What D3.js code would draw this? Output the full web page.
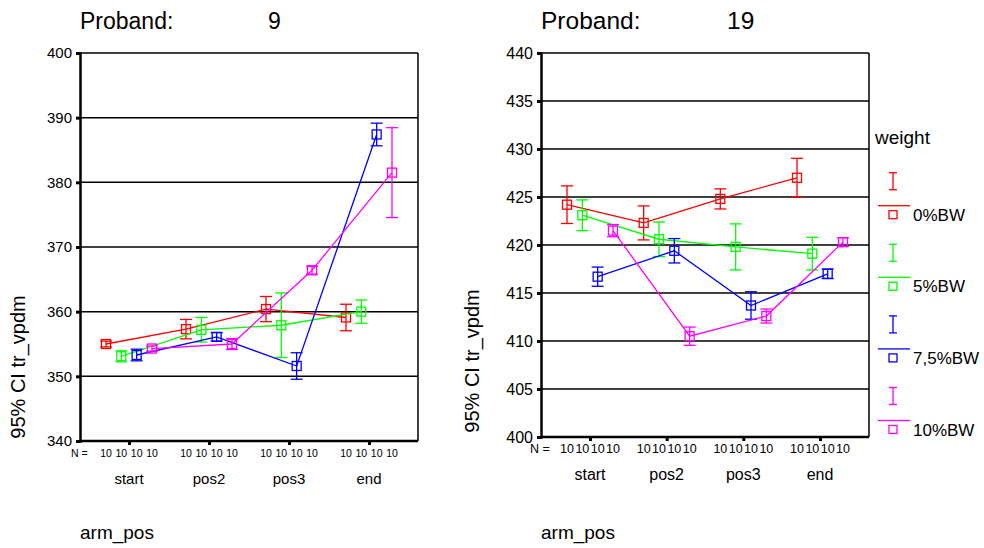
<!DOCTYPE html>
<html>
<head>
<meta charset="utf-8">
<script src="https://cdn.jsdelivr.net/npm/d3@7/dist/d3.min.js"></script>
<style>
  body { margin: 0; background: #fff; }
  svg { display: block; font-family: "Liberation Sans", Arial, sans-serif; }
</style>
</head>
<body>
<div id="plot"></div>
<script>
// Categories and groups
const categories = ["start", "pos2", "pos3", "end"];
const weights = ["0%BW", "5%BW", "7,5%BW", "10%BW"];
const colors = ["#ff0000", "#00ff00", "#0000ff", "#ff00ff"];
const nCounts = [10, 10, 10, 10];

// Proband 9: means and 95% CI half widths (one row per weight)
const p9Means = [
  [355.0, 357.3, 360.4, 359.1],
  [353.1, 357.2, 357.9, 360.0],
  [353.3, 356.1, 351.6, 387.4],
  [354.3, 355.0, 366.4, 381.5]
];
const p9CI = [
  [0.45, 1.5, 1.95, 2.05],
  [0.85, 1.9, 5.0, 1.8],
  [0.9, 0.65, 2.05, 1.75],
  [0.4, 0.85, 0.6, 6.95]
];
const p9Ticks = [340, 350, 360, 370, 380, 390, 400];

// Proband 19
const p19Means = [
  [424.2, 422.3, 424.8, 427.0],
  [423.1, 420.6, 419.8, 419.1],
  [416.7, 419.4, 413.7, 417.0],
  [421.5, 410.5, 412.6, 420.3]
];
const p19CI = [
  [1.96, 1.77, 1.05, 2.03],
  [1.6, 1.8, 2.4, 1.7],
  [1.0, 1.27, 1.43, 0.5],
  [0.63, 0.95, 0.73, 0.45]
];
const p19Ticks = [400, 405, 410, 415, 420, 425, 430, 435, 440];

const svg = d3.select("#plot").append("svg")
  .attr("width", 984)
  .attr("height", 548);

function drawPanel(cfg) {
  const g = svg.append("g");
  const { left, right, top, bottom } = cfg;

  const y = d3.scaleLinear()
    .domain([cfg.ticks[0], cfg.ticks[cfg.ticks.length - 1]])
    .range([bottom, top]);
  const x = d3.scalePoint().domain(categories).range([left + 49, right - 49]);
  const off = d3.scalePoint().domain(weights).range([-23, 23]);

  // title
  g.append("text").attr("x", left).attr("y", 29)
    .style("font-size", cfg.titleSize + "px").text("Proband:");
  g.append("text").attr("x", left + cfg.numDx).attr("y", 29)
    .style("font-size", cfg.titleSize + "px").text(cfg.id);

  // gridlines
  g.selectAll(".grid").data(cfg.ticks.slice(1)).join("line")
    .attr("x1", left).attr("x2", right)
    .attr("y1", d => y(d)).attr("y2", d => y(d))
    .attr("stroke", "#000").attr("stroke-width", 1.5);

  // right frame
  g.append("line").attr("x1", right).attr("x2", right)
    .attr("y1", top).attr("y2", bottom)
    .attr("stroke", "#000").attr("stroke-width", 1.5);

  // y axis
  const yAxis = g.append("g").attr("transform", `translate(${left},0)`)
    .call(d3.axisLeft(y).tickValues(cfg.ticks).tickSize(4).tickPadding(4));
  yAxis.select(".domain").attr("stroke-width", 2.5);
  yAxis.selectAll(".tick line").attr("stroke-width", 3);
  yAxis.selectAll(".tick text")
    .style("font-size", cfg.tickSize + "px")
    .style("font-family", "Liberation Sans, Arial, sans-serif")
    .attr("fill", "#000");

  // x axis
  const xAxis = g.append("g").attr("transform", `translate(0,${bottom})`)
    .call(d3.axisBottom(x).tickSize(4).tickFormat(""));
  xAxis.select(".domain").attr("d", `M${left},0H${right}`).attr("stroke-width", 2.5);
  xAxis.selectAll(".tick line").attr("stroke-width", 3);

  // N row
  g.append("text").attr("x", cfg.nX).attr("y", bottom + 16)
    .style("font-size", cfg.nSize + "px").text("N =");
  categories.forEach(c => {
    weights.forEach((w, i) => {
      g.append("text").attr("x", x(c) + off(w)).attr("y", bottom + 16)
        .attr("text-anchor", "middle")
        .style("font-size", cfg.nSize + "px").text(nCounts[i]);
    });
    g.append("text").attr("x", x(c)).attr("y", bottom + 43)
      .attr("text-anchor", "middle")
      .style("font-size", cfg.catSize + "px").text(c);
  });

  // x title
  g.append("text").attr("x", left).attr("y", 539)
    .style("font-size", "19px").text("arm_pos");

  // y title
  g.append("text")
    .attr("transform", `translate(${cfg.yTitleX},${cfg.yTitleY}) rotate(-90)`)
    .attr("text-anchor", "middle")
    .style("font-size", "20px").text("95% CI tr_vpdm");

  // series
  weights.forEach((w, i) => {
    const pts = categories.map((c, j) => ({
      x: x(c) + off(w), m: cfg.means[i][j], e: cfg.ci[i][j]
    }));
    g.append("path").datum(pts)
      .attr("fill", "none").attr("stroke", colors[i]).attr("stroke-width", 1.3)
      .attr("d", d3.line().x(d => d.x).y(d => y(d.m)));

    const eb = g.append("g").attr("stroke", colors[i]).attr("stroke-width", 1.3).attr("fill", "none");
    pts.forEach(p => {
      const y1 = y(p.m + p.e), y2 = y(p.m - p.e);
      eb.append("line").attr("x1", p.x).attr("x2", p.x).attr("y1", y1).attr("y2", y2);
      eb.append("line").attr("x1", p.x - 6).attr("x2", p.x + 6).attr("y1", y1).attr("y2", y1);
      eb.append("line").attr("x1", p.x - 6).attr("x2", p.x + 6).attr("y1", y2).attr("y2", y2);
      eb.append("rect").attr("x", p.x - 4.5).attr("y", y(p.m) - 4.5)
        .attr("width", 9).attr("height", 9).attr("fill", "none");
    });
  });
}

drawPanel({
  id: "9", left: 80, right: 418, top: 53, bottom: 441,
  ticks: p9Ticks, means: p9Means, ci: p9CI,
  titleSize: 23, numDx: 188, tickSize: 15, nSize: 10.5, nX: 71, catSize: 15,
  yTitleX: 25, yTitleY: 367
});

drawPanel({
  id: "19", left: 541, right: 869, top: 53, bottom: 437,
  ticks: p19Ticks, means: p19Means, ci: p19CI,
  titleSize: 24.5, numDx: 186, tickSize: 16, nSize: 12.5, nX: 530, catSize: 16,
  yTitleX: 479, yTitleY: 361
});

// legend
const legend = svg.append("g");
legend.append("text").attr("x", 875).attr("y", 144)
  .style("font-size", "19px").text("weight");
weights.forEach((w, i) => {
  const base = 172.7 + i * 71.6;
  const item = legend.append("g").attr("stroke", colors[i]).attr("stroke-width", 1.3).attr("fill", "none");
  item.append("line").attr("x1", 893).attr("x2", 893).attr("y1", base).attr("y2", base + 17);
  item.append("line").attr("x1", 889).attr("x2", 897).attr("y1", base).attr("y2", base);
  item.append("line").attr("x1", 889).attr("x2", 897).attr("y1", base + 17).attr("y2", base + 17);
  item.append("line").attr("x1", 878).attr("x2", 910).attr("y1", base + 33).attr("y2", base + 33);
  item.append("rect").attr("x", 889).attr("y", base + 38).attr("width", 8).attr("height", 8);
  legend.append("text").attr("x", 913).attr("y", base + 48)
    .style("font-size", "17px").text(w);
});
</script>
</body>
</html>
